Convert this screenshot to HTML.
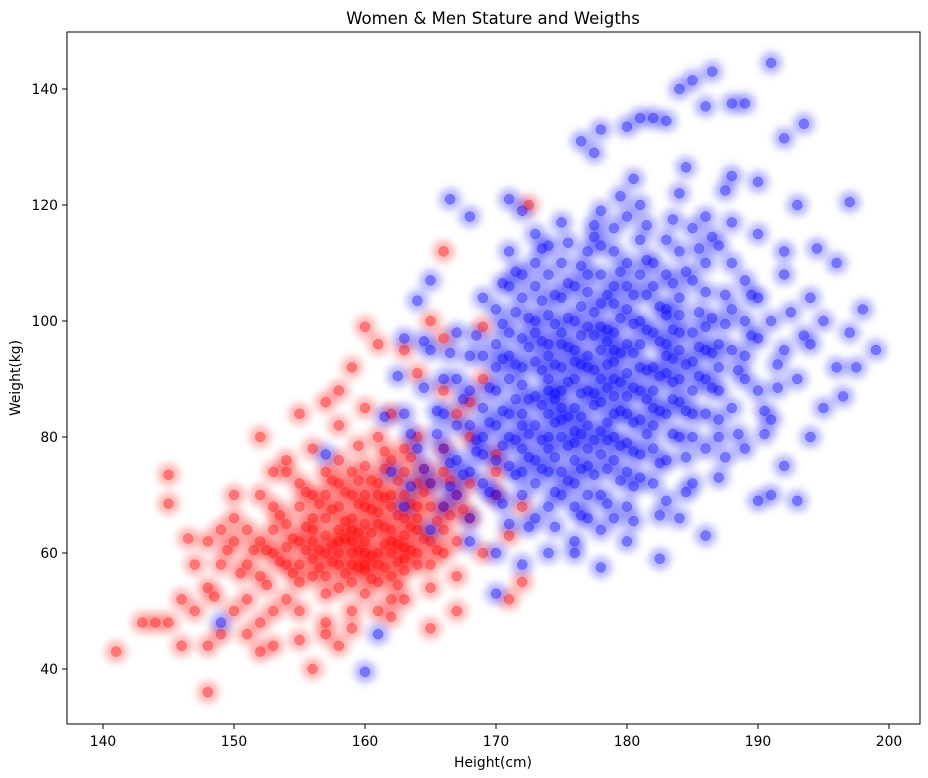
<!DOCTYPE html>
<html><head><meta charset="utf-8"><style>
html,body{margin:0;padding:0;background:#fff;}
svg{display:block;font-family:"DejaVu Sans","Liberation Sans",sans-serif;}
</style></head><body>
<svg id="chart" width="928" height="778" viewBox="0 0 928 778" xmlns="http://www.w3.org/2000/svg">
<defs><filter id="blur" x="-20%" y="-20%" width="140%" height="140%"><feGaussianBlur stdDeviation="4"/></filter>
<clipPath id="plotclip"><rect x="67" y="32" width="853" height="692"/></clipPath></defs>
<rect x="0" y="0" width="928" height="778" fill="#fff"/>
<text x="493" y="24" text-anchor="middle" font-size="16.5">Women &amp; Men Stature and Weigths</text>
<g clip-path="url(#plotclip)">
<g id="density-red" filter="url(#blur)"></g>
<g id="density-blue" filter="url(#blur)"></g>
<g id="marks-red"></g>
<g id="marks-blue"></g>
</g>
<rect x="67" y="32" width="853" height="692" fill="none" stroke="#000" stroke-width="1"/>
<g id="xticks"></g>
<g id="yticks"></g>
<text x="493" y="767" text-anchor="middle" font-size="13.9">Height(cm)</text>
<text x="20" y="378" text-anchor="middle" font-size="13.9" transform="rotate(-90 20 378)">Weight(kg)</text>
</svg>
<script>
const xTicks=[140,150,160,170,180,190,200];
const yTicks=[40,60,80,100,120,140];
const menPoints=[191,144.5,186.5,143,185,141.5,184,140,183,134.5,180,133.5,178,133,193.5,134,192,131.5,189,137.5,188,137.5,186,137,181,135,182,135,176.5,131,177.5,129,197,120.5,199,95,198,102,197.5,92,196.5,87,193,69,190,69,186,63,182.5,59,178,57.5,172,58,170,53,160,39.5,161,46,149,48,157,77,166.5,121,171,121,172,119,168,118,165,107,164,103.5,163,97,189,78,191,70,192,75,
175,85,177,88,179,90,173,82,181,92,176,79,178,95,174,90,180,84,172,78,183,96,170,76,176,100,179,80,182,88,171,84,177,75,185,93,168,74,174,96,180,102,178,70,173,72,184,86,186,99,169,80,175,92,181,77,177,105,172,89,188,95,167,70,183,108,176,68,179,98,174,78,171,94,182,82,187,88,165,72,180,110,178,86,173,100,185,80,170,88,176,93,184,104,168,66,190,97,175,74,179,106,172,70,181,96,177,82,186,90,169,85,183,76,174,108,180,91,166,78,178,113,171,75,188,102,175,98,182,72,173,87,187,83,179,76,170,96,184,112,176,85,167,82,181,100,174,68,189,90,177,94,172,104,185,107,180,79,178,64,168,88,183,91,175,110,171,65,186,84,179,87,173,93,182,106,176,72,190,104,169,72,184,95,177,99,174,84,180,74,188,110,172,84,181,88,166,68,178,103,175,80,183,84,170,70,187,96,179,93,173,76,185,88,177,112,182,98,171,90,176,62,180,96,174,101,186,105,168,94,189,100,178,81,172,97,184,80,175,88,181,114,177,70,170,82,183,101,179,116,173,110,187,92,176,90,192,95,167,90,182,92,174,74,180,87,185,98,171,98,178,108,169,77,188,85,176,106,183,69,173,66,181,83,175,104,186,110,179,84,172,92,190,88,177,78,184,101,170,102,174,94,180,118,178,99,182,78,187,113,166,84,176,95,183,114,171,80,179,103,175,70,185,84,173,106,181,108,177,92,189,107,168,82,184,90,180,68,172,74,186,95,178,77,174,88,182,110,176,81,170,92,191,100,179,112,175,96,183,94,169,94,187,80,181,73,177,108,173,98,185,116,178,90,172,82,180,106,194,104,176,76,184,98,171,106,188,117,174,80,182,85,167,76,179,95,186,78,175,83,183,102,177,66,193,90,189,94,192,112,195,100,191,83,194,80,196,110,193,120,190,124,188,125,184,122,181,120,178,119,175,117,173,115,186,118,192,108,195,85,197,98,190,115,187,73,185,72,180,62,176,60,174,60,184,66,179,66,170,60,168,62,165,64,163,68,162,74,164,78,163,84,166,90,165,95,167,98,169,104,172,108,174,113,171,112,196,92,194,96,
174.5,86.5,176.5,83.5,178.5,92.5,180.5,88.5,172.5,80.5,175.5,95.5,177.5,79.5,179.5,84.5,181.5,98.5,173.5,91.5,176.5,97.5,178.5,82.5,182.5,90.5,170.5,84.5,174.5,76.5,177.5,101.5,179.5,72.5,183.5,86.5,171.5,79.5,175.5,89.5,180.5,94.5,176.5,87.5,184.5,92.5,172.5,95.5,178.5,104.5,181.5,80.5,169.5,82.5,174.5,99.5,177.5,85.5,183.5,98.5,173.5,74.5,180.5,77.5,186.5,94.5,175.5,78.5,179.5,100.5,171.5,92.5,182.5,84.5,176.5,102.5,178.5,74.5,185.5,101.5,170.5,78.5,174.5,92.5,181.5,104.5,177.5,91.5,168.5,79.5,183.5,80.5,175.5,106.5,179.5,89.5,172.5,86.5,187.5,99.5,173.5,103.5,180.5,99.5,176.5,74.5,184.5,84.5,171.5,73.5,178.5,96.5,182.5,102.5,174.5,82.5,179.5,78.5,186.5,88.5,167.5,73.5,170.5,93.5,177.5,97.5,181.5,86.5,175.5,72.5,183.5,106.5,173.5,79.5,180.5,82.5,185.5,90.5,176.5,92.5,172.5,100.5,178.5,88.5,169.5,88.5,182.5,96.5,174.5,104.5,187.5,104.5,179.5,94.5,171.5,86.5,184.5,108.5,177.5,73.5,166.5,75.5,175.5,100.5,181.5,91.5,173.5,85.5,180.5,71.5,176.5,109.5,183.5,89.5,170.5,99.5,178.5,98.5,186.5,100.5,172.5,76.5,174.5,70.5,179.5,108.5,182.5,75.5,188.5,91.5,176.5,80.5,169.5,70.5,184.5,76.5,177.5,114.5,173.5,96.5,181.5,110.5,175.5,83.5,185.5,95.5,178.5,79.5,171.5,101.5,180.5,104.5,167.5,86.5,183.5,93.5,174.5,87.5,189.5,97.5,177.5,87.5,164.5,74.5,165.5,80.5,163.5,71.5,166.5,71.5,168.5,77.5,170.5,68.5,172.5,64.5,174.5,64.5,176.5,66.5,178.5,68.5,180.5,65.5,182.5,66.5,184.5,70.5,187.5,76.5,190.5,84.5,191.5,92.5,189.5,104.5,186.5,114.5,183.5,117.5,179.5,121.5,175.5,113.5,171.5,108.5,168.5,97.5,166.5,94.5,164.5,88.5,165.5,84.5,188.5,80.5,192.5,101.5,193.5,97.5,194.5,112.5,191.5,88.5,190.5,80.5,185.5,112.5,181.5,116.5,177.5,116.5,173.5,112.5,180.5,124.5,184.5,126.5,187.5,122.5,170.5,106.5,163.5,80.5,162.5,90.5,161.5,83.5,164.5,96.5];
const womenPoints=[160,62,162,64,158,60,164,66,161,58,159,66,163,61,157,63,165,68,160,70,162,56,156,59,158,68,164,60,161,72,155,62,163,74,159,55,166,64,157,56,160,65,162,68,154,58,158,64,165,58,161,60,163,66,156,66,159,62,167,70,153,60,160,57,164,72,157,70,162,60,155,55,161,67,158,58,166,74,152,56,163,63,159,70,156,62,160,75,154,65,165,62,158,72,162,52,157,60,164,64,151,58,161,65,159,58,163,70,155,68,160,60,166,68,153,64,158,54,162,76,156,70,161,55,164,58,150,62,159,64,157,66,163,57,155,58,160,68,165,72,152,62,158,62,162,70,154,52,161,80,157,53,159,74,163,78,156,64,160,53,166,60,153,68,158,76,162,62,155,72,164,68,151,64,160,58,157,74,159,60,161,70,154,61,163,59,156,56,149,58,150,66,148,54,151,52,152,70,153,50,147,58,149,64,150,50,146,52,155,50,157,48,159,50,148,62,152,48,154,74,156,78,158,82,160,85,162,84,164,80,166,78,168,72,170,70,168,66,167,62,169,60,167,56,165,54,163,52,161,50,159,47,157,46,155,45,153,44,151,46,149,46,147,50,145,48,144,48,143,48,146,44,141,43,148,36,145,73.5,145,68.5,146.5,62.5,150,70,152,80,153,74,154,76,155,84,157,86,158,88,159,92,160,99,161,96,163,95,164,91,165,100,166,97,166,112,172.5,120,169,99,168,86,170,77,171,63,172,55,171,52,167,50,165,47,162,49,158,44,156,40,152,43,148,44,168,80,170,74,172,68,169,90,167,84,166,88,
160.5,63.5,161.5,61.5,159.5,60.5,162.5,66.5,158.5,65.5,163.5,64.5,157.5,61.5,160.5,67.5,161.5,57.5,159.5,68.5,164.5,62.5,156.5,60.5,162.5,58.5,158.5,62.5,163.5,68.5,160.5,59.5,155.5,64.5,165.5,65.5,157.5,67.5,161.5,69.5,159.5,57.5,162.5,72.5,156.5,57.5,164.5,70.5,158.5,70.5,154.5,62.5,160.5,72.5,163.5,60.5,157.5,58.5,166.5,66.5,153.5,58.5,161.5,64.5,159.5,63.5,155.5,60.5,162.5,61.5,165.5,60.5,158.5,56.5,167.5,67.5,152.5,60.5,160.5,55.5,164.5,74.5,156.5,68.5,162.5,54.5,150.5,56.5,154.5,56.5,163.5,76.5,159.5,72.5,157.5,72.5,166.5,72.5,161.5,74.5,151.5,60.5,153.5,66.5,149.5,60.5,148.5,52.5,152.5,54.5,155.5,70.5,159.5,78.5,161.5,77.5];
const NS="http://www.w3.org/2000/svg";
function xScale(v){return 103+(v-140)*(889-103)/60;}
function yScale(v){return 669-(v-40)*(669-89)/100;}
function drawDensity(arr,gid,color,name){
  const g=document.getElementById(gid);
  for(let i=0;i<arr.length;i+=2){
    const c=document.createElementNS(NS,'circle');
    
    
    c.setAttribute('cx',xScale(arr[i]));c.setAttribute('cy',yScale(arr[i+1]));
    c.setAttribute('r',11);c.setAttribute('fill',color);c.setAttribute('fill-opacity',0.3);
    g.appendChild(c);
  }
}
function drawSeries(arr,gid,color,name){
  const g=document.getElementById(gid);
  for(let i=0;i<arr.length;i+=2){
    const c=document.createElementNS(NS,'circle');
    
    
    c.setAttribute('cx',xScale(arr[i]));c.setAttribute('cy',yScale(arr[i+1]));
    c.setAttribute('r',5);c.setAttribute('fill',color);c.setAttribute('fill-opacity',0.35);
    c.setAttribute('stroke',color);c.setAttribute('stroke-opacity',0.35);c.setAttribute('stroke-width',0.5);
    g.appendChild(c);
  }
}
drawDensity(womenPoints,'density-red','#ff0000','women-density-blob');
drawDensity(menPoints,'density-blue','#0000ff','men-density-blob');
drawSeries(womenPoints,'marks-red','#ff0000','women-point');
drawSeries(menPoints,'marks-blue','#0000ff','men-point');
const xg=document.getElementById('xticks');
xTicks.forEach(t=>{
  const x=xScale(t);
  const l=document.createElementNS(NS,'line');
  
  
  l.setAttribute('x1',x);l.setAttribute('x2',x);l.setAttribute('y1',724);l.setAttribute('y2',729);l.setAttribute('stroke','#000');
  xg.appendChild(l);
  const tx=document.createElementNS(NS,'text');
  
  
  tx.setAttribute('x',x);tx.setAttribute('y',746);tx.setAttribute('text-anchor','middle');tx.setAttribute('font-size','13.9');
  tx.textContent=t;xg.appendChild(tx);
});
const yg=document.getElementById('yticks');
yTicks.forEach(t=>{
  const y=yScale(t);
  const l=document.createElementNS(NS,'line');
  
  
  l.setAttribute('x1',62);l.setAttribute('x2',67);l.setAttribute('y1',y);l.setAttribute('y2',y);l.setAttribute('stroke','#000');
  yg.appendChild(l);
  const tx=document.createElementNS(NS,'text');
  
  
  tx.setAttribute('x',58);tx.setAttribute('y',y+5);tx.setAttribute('text-anchor','end');tx.setAttribute('font-size','13.9');
  tx.textContent=t;yg.appendChild(tx);
});
</script>
</body></html>
